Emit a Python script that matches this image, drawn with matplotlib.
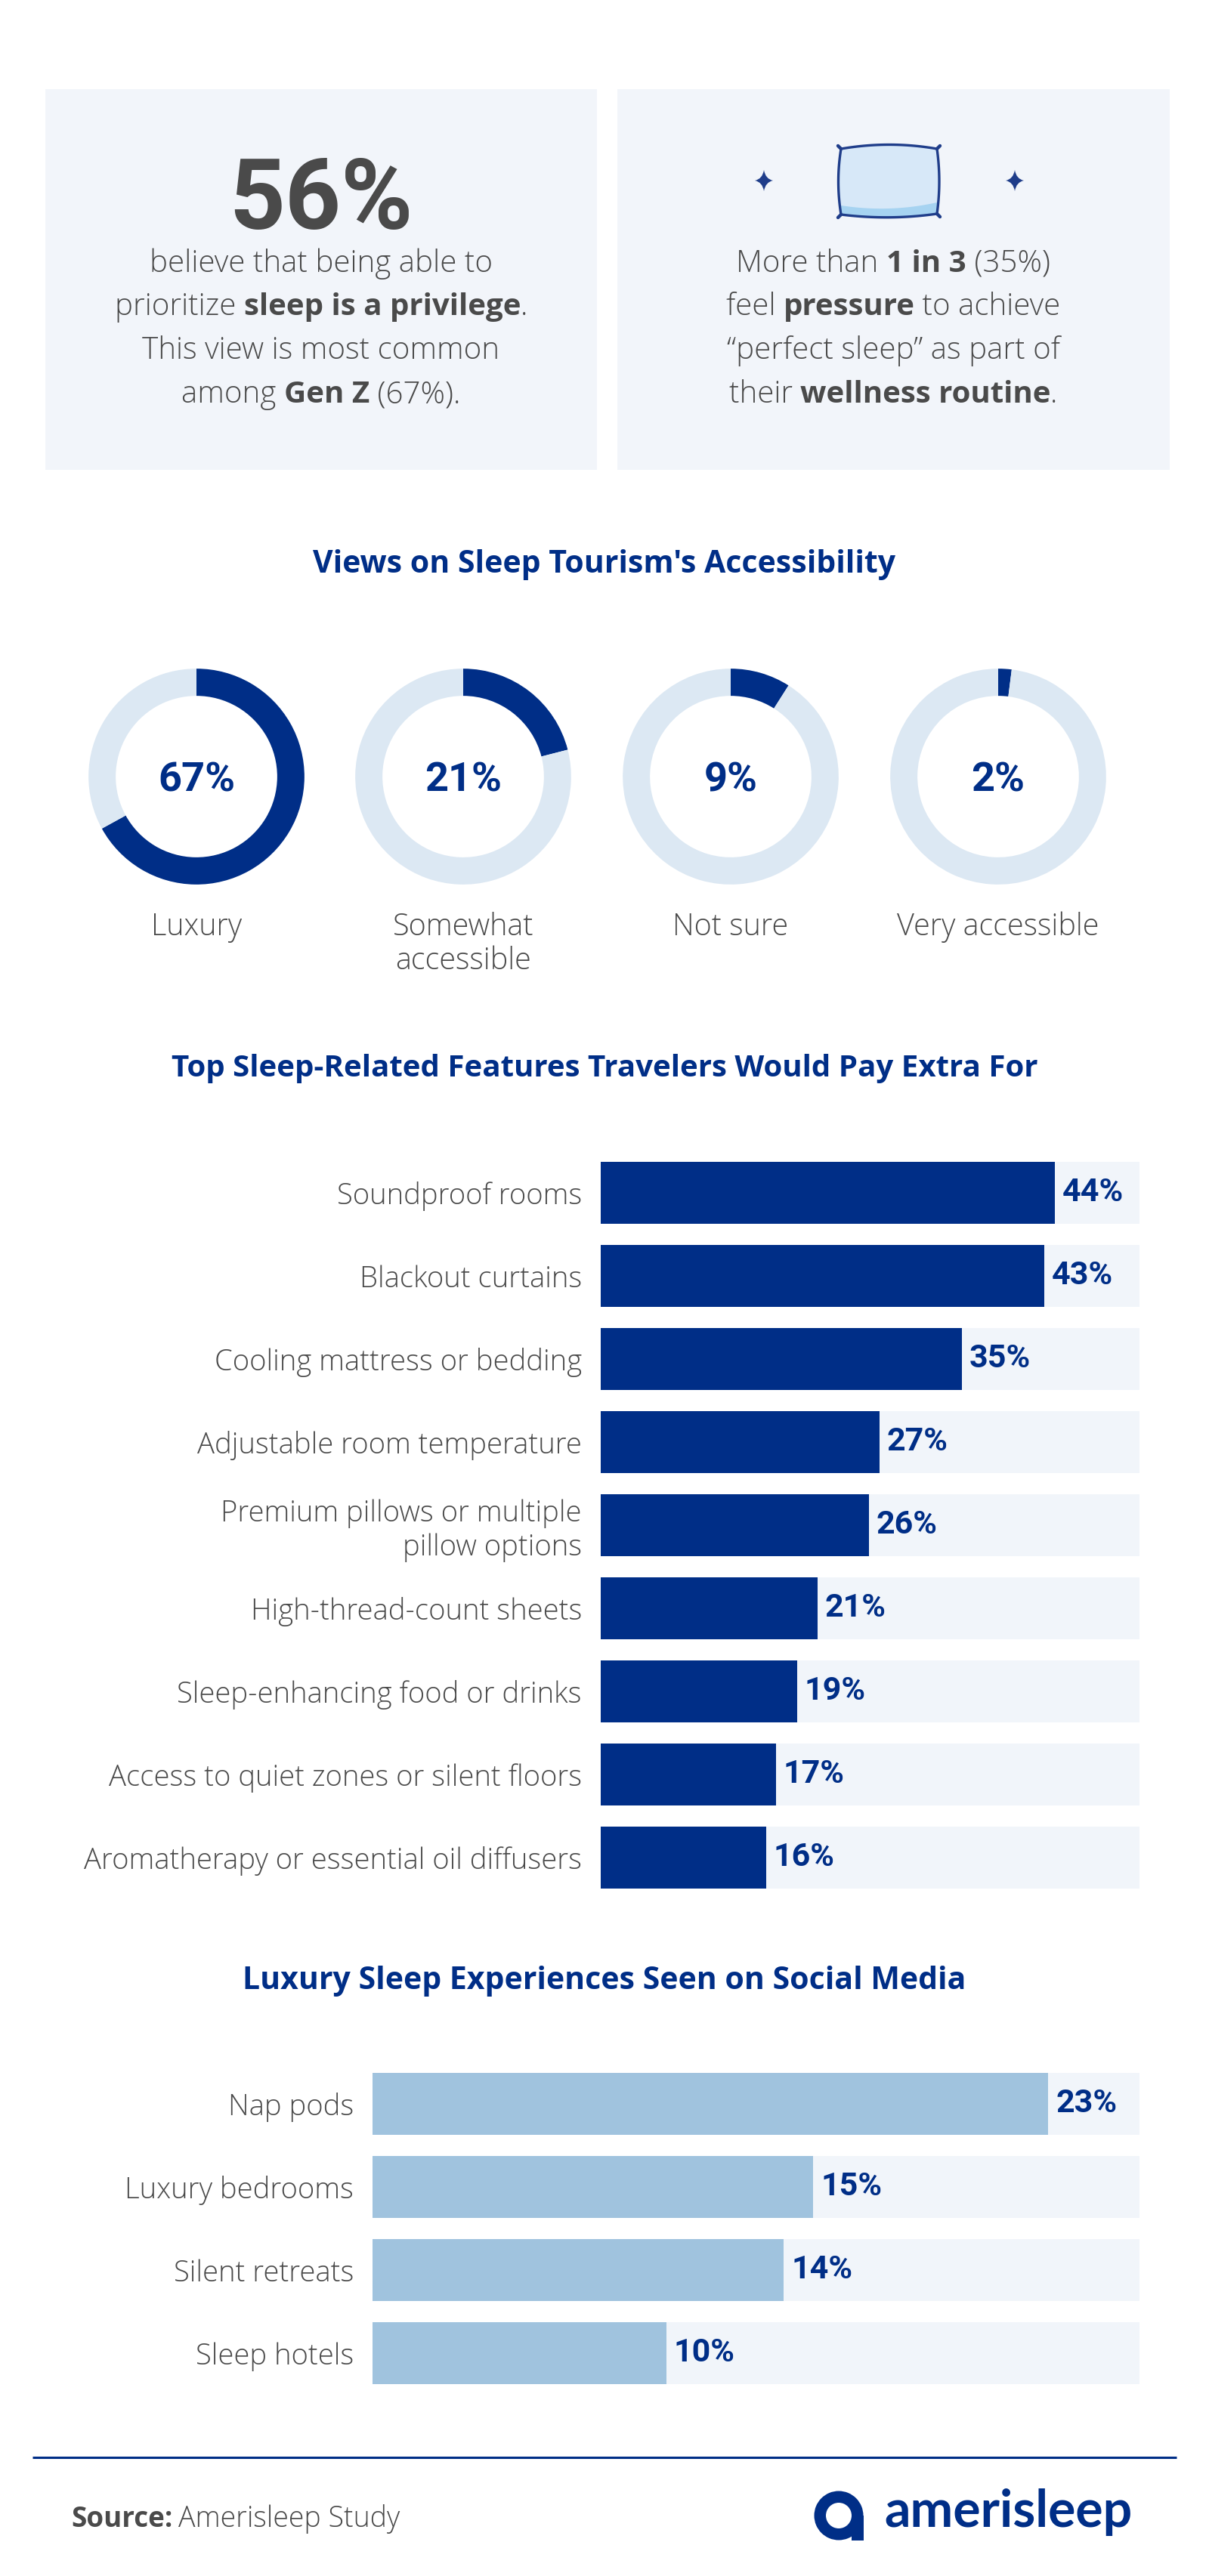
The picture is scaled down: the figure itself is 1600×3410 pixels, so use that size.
import matplotlib
matplotlib.use("Agg")
import matplotlib.pyplot as plt
import numpy as np
from matplotlib.patches import Rectangle, Wedge, PathPatch
from matplotlib.path import Path

plt.rcParams['font.family'] = ['Open Sans', 'DejaVu Sans']
NUM_FONT = ['Roboto', 'DejaVu Sans']
REG = 'light'

NAVY = '#002e87'
NAVY_ICON = '#1f3d8a'
GRAY = '#4a4a4a'
BOX = '#f2f5fa'
TRACK = '#f1f5fa'
RING = '#dce8f3'
LIGHT_BAR = '#a0c3de'

# ---- data ----
donut_labels = ['Luxury', 'Somewhat\naccessible', 'Not sure', 'Very accessible']
donut_values = [67, 21, 9, 2]

feature_labels = ['Soundproof rooms', 'Blackout curtains', 'Cooling mattress or bedding',
                  'Adjustable room temperature', 'Premium pillows or multiple\npillow options',
                  'High-thread-count sheets', 'Sleep-enhancing food or drinks',
                  'Access to quiet zones or silent floors', 'Aromatherapy or essential oil diffusers']
feature_values = [44, 43, 35, 27, 26, 21, 19, 17, 16]

social_labels = ['Nap pods', 'Luxury bedrooms', 'Silent retreats', 'Sleep hotels']
social_values = [23, 15, 14, 10]

left_lines = [[('believe that being able to', REG)],
              [('prioritize ', REG), ('sleep is a privilege', 'bold'), ('.', REG)],
              [('This view is most common', REG)],
              [('among ', REG), ('Gen Z', 'bold'), (' (67%).', REG)]]
right_lines = [[('More than ', REG), ('1 in 3', 'bold'), (' (35%)', REG)],
               [('feel ', REG), ('pressure', 'bold'), (' to achieve', REG)],
               [('\u201cperfect sleep\u201d as part of', REG)],
               [('their ', REG), ('wellness routine', 'bold'), ('.', REG)]]

W, H = 1600, 3410
fig = plt.figure(figsize=(W / 100, H / 100), dpi=100)
fig.patch.set_facecolor('white')
bg = fig.add_axes([0, 0, 1, 1])
bg.set_xlim(0, W)
bg.set_ylim(H, 0)
bg.axis('off')
renderer = fig.canvas.get_renderer()


def text_width(s, size, weight, family=None):
    kw = dict(fontsize=size, fontweight=weight)
    if family:
        kw['family'] = family
    t = bg.text(0, 0, s + 'x', **kw)
    t2 = bg.text(0, 0, 'x', **kw)
    w = t.get_window_extent(renderer).width - t2.get_window_extent(renderer).width
    t.remove()
    t2.remove()
    return w


def rich_line(cx, y, parts, size, color=GRAY):
    widths = [text_width(s, size, w) for s, w in parts]
    x = cx - sum(widths) / 2
    for (s, w), wd in zip(parts, widths):
        bg.text(x, y, s, fontsize=size, fontweight=w, color=color, ha='left', va='baseline')
        x += wd


def fig_axes(x0, y0, x1, y1):
    return fig.add_axes([x0 / W, 1 - y1 / H, (x1 - x0) / W, (y1 - y0) / H])


# ---- top boxes ----
bg.add_patch(Rectangle((60, 118), 730, 504, color=BOX, lw=0))
bg.add_patch(Rectangle((817, 118), 731, 504, color=BOX, lw=0))

bg.text(425, 303, '56%', fontsize=93, fontweight='bold', color=GRAY, ha='center',
        va='baseline', family=NUM_FONT)
baselines = [360, 417, 475, 533]
for yb, parts in zip(baselines, left_lines):
    rich_line(425, yb, parts, 29)
for yb, parts in zip(baselines, right_lines):
    rich_line(1182, yb, parts, 29)


# pillow icon
def bez(p0, p1, p2, n=30):
    t = np.linspace(0, 1, n)[:, None]
    return (1 - t) ** 2 * np.array(p0) + 2 * (1 - t) * t * np.array(p1) + t ** 2 * np.array(p2)


top = bez((1113, 197), (1177, 186), (1240, 197))
right = bez((1240, 197), (1246, 240), (1240, 283))
bottom = bez((1240, 283), (1177, 292), (1113, 284))
left = bez((1113, 284), (1106, 240), (1113, 197))
outline = np.vstack([top, right, bottom, left])
bg.add_patch(plt.Polygon(outline, closed=True, facecolor='#d7e8f8', edgecolor='none'))
band_top = bez((1113, 272), (1177, 282), (1240, 268))
band = np.vstack([band_top, bez((1240, 283), (1177, 292), (1113, 284))])
bg.add_patch(plt.Polygon(band, closed=True, facecolor='#a6d3f1', edgecolor='none'))
bg.add_patch(plt.Polygon(outline, closed=True, facecolor='none', edgecolor=NAVY_ICON,
                         lw=2.4, joinstyle='round'))
for (ex, ey), (dx, dy) in zip([(1113, 197), (1240, 197), (1240, 283), (1113, 284)],
                              [(-4, -4), (4, -4), (4, 4), (-4, 4)]):
    bg.plot([ex, ex + dx], [ey, ey + dy], color=NAVY_ICON, lw=3.2, solid_capstyle='round')

for sx in (1011, 1343):
    sy = 239
    verts = [(sx, sy - 14), (sx + 2, sy - 2), (sx + 12, sy), (sx + 2, sy + 2), (sx, sy + 14),
             (sx - 2, sy + 2), (sx - 12, sy), (sx - 2, sy - 2), (sx, sy - 14)]
    codes = [Path.MOVETO] + [Path.CURVE3] * 8
    bg.add_patch(PathPatch(Path(verts, codes), facecolor=NAVY_ICON, edgecolor='none'))

# ---- donuts ----
bg.text(800, 758, "Views on Sleep Tourism's Accessibility", fontsize=29.5, fontweight='bold',
        color=NAVY, ha='center', va='baseline')
donut_x = [260, 613, 967, 1321]
donut_y = 1028
for cx, v, lab in zip(donut_x, donut_values, donut_labels):
    ax = fig_axes(cx - 150, donut_y - 150, cx + 150, donut_y + 150)
    ax.pie([v, 100 - v], radius=1, startangle=90, counterclock=False, colors=[NAVY, RING],
           wedgeprops=dict(width=0.252, linewidth=0))
    ax.set_xlim(-1.05, 1.05)
    ax.set_ylim(-1.05, 1.05)
    ax.set_aspect('equal')
    ax.axis('off')
    bg.text(cx, 1047, f'{v}%', fontsize=39, fontweight='bold', color=NAVY, ha='center',
            va='baseline', family=NUM_FONT)
    for k, line in enumerate(lab.split('\n')):
        bg.text(cx, 1238 + 45 * k, line, fontsize=28.5, fontweight=REG, color=GRAY,
                ha='center', va='baseline')

# ---- features bar chart ----
bg.text(800, 1425, 'Top Sleep-Related Features Travelers Would Pay Extra For', fontsize=29,
        fontweight='bold', color=NAVY, ha='center', va='baseline')


def bar_panel(ax, labels, values, xmax, color):
    y = np.arange(len(values))
    ax.barh(y, [xmax] * len(values), height=0.745, color=TRACK, lw=0)
    ax.barh(y, values, height=0.745, color=color, lw=0)
    ax.set_xlim(0, xmax)
    ax.set_ylim(len(values) - 0.5, -0.5)
    ax.set_yticks(y)
    ax.set_yticklabels(labels, fontsize=27.5, fontweight=REG, color=GRAY)
    ax.tick_params(axis='y', length=0, pad=18)
    ax.set_xticks([])
    for s in ax.spines.values():
        s.set_visible(False)
    ax.set_facecolor('none')
    for yi, v in zip(y, values):
        ax.annotate(f'{v}%', (v, yi), xytext=(7, 0), textcoords='offset points',
                    fontsize=31, fontweight='bold', color=NAVY, ha='left', va='center',
                    family=NUM_FONT)


ax1 = fig_axes(795, 1524, 1508, 2514)
bar_panel(ax1, feature_labels, feature_values, 52.2, NAVY)

# ---- social bar chart ----
bg.text(800, 2633, 'Luxury Sleep Experiences Seen on Social Media', fontsize=29.5,
        fontweight='bold', color=NAVY, ha='center', va='baseline')
ax2 = fig_axes(493, 2730, 1508, 3170)
bar_panel(ax2, social_labels, social_values, 26.1, LIGHT_BAR)

# ---- footer ----
bg.plot([43, 1557], [3253, 3253], color=NAVY, lw=2.2, solid_capstyle='butt')
sw = text_width('Source:', 26.5, 'bold')
bg.text(94, 3345, 'Source:', fontsize=26.5, fontweight='bold', color=GRAY, va='baseline')
bg.text(94 + sw + 8, 3345, 'Amerisleep Study', fontsize=27, fontweight=REG, color=GRAY,
        va='baseline')

bg.add_patch(Wedge((1110, 3330), 32.5, 0, 360, width=15.5, color=NAVY, lw=0))
bg.add_patch(Rectangle((1127, 3330), 15.5, 32.5, color=NAVY, lw=0))
logo_size = 45
lw_px = text_width('amerisleep', logo_size, 'bold', ['Lato', 'DejaVu Sans'])
logo_size = logo_size * 329 / lw_px
bg.text(1170, 3345, 'amerisleep', fontsize=logo_size, fontweight='bold', color=NAVY,
        family=['Lato', 'DejaVu Sans'], va='baseline')

fig.savefig('out.png', dpi=100, facecolor='white')
